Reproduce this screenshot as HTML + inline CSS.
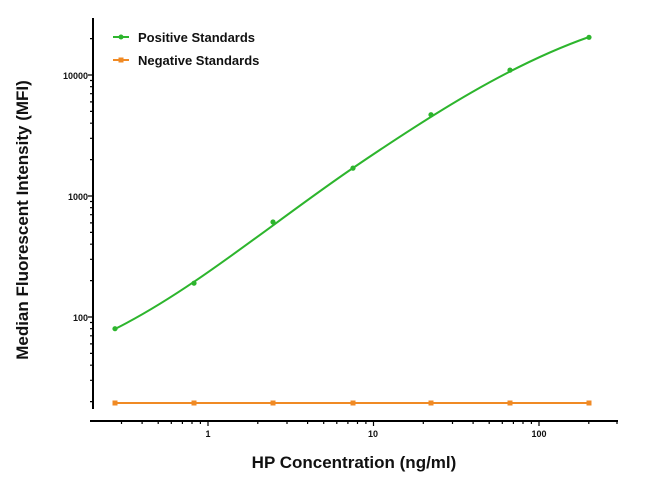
<!DOCTYPE html>
<html><head><meta charset="utf-8"><style>body{margin:0;background:#fff}svg{display:block}</style></head>
<body>
<svg width="650" height="482" xmlns="http://www.w3.org/2000/svg" font-family="Liberation Sans, Arial, sans-serif">
<rect width="650" height="482" fill="#fff"/>
<g stroke="#000" stroke-width="2" fill="none">
<line x1="93" y1="18" x2="93" y2="409"/>
<line x1="90" y1="421" x2="618" y2="421"/>
</g>
<path stroke="#000" stroke-width="1.2" fill="none" d="
M90,401.6H93 M90,380.3H93 M90,365.2H93 M90,353.4H93 M90,343.9H93 M90,335.8H93 M90,328.7H93 M90,322.5H93 M88,317H93
M90,280.6H93 M90,259.3H93 M90,244.2H93 M90,232.4H93 M90,222.9H93 M90,214.7H93 M90,207.7H93 M90,201.5H93 M88,196H93
M90,159.6H93 M90,138.3H93 M90,123.2H93 M90,111.4H93 M90,101.9H93 M90,93.7H93 M90,86.7H93 M90,80.5H93 M88,75H93
M90,38.6H93
M121.5,421V424 M142.1,421V424 M158.2,421V424 M171.3,421V424 M182.4,421V424 M192,421V424 M200.4,421V424 M208,421V426
M257.8,421V424 M287,421V424 M307.6,421V424 M323.7,421V424 M336.8,421V424 M347.9,421V424 M357.5,421V424 M365.9,421V424 M373.5,421V426
M423.3,421V424 M452.5,421V424 M473.1,421V424 M489.2,421V424 M502.3,421V424 M513.4,421V424 M523,421V424 M531.4,421V424 M539,421V426
M588.8,421V424 M617,421V424"/>
<g font-size="9" font-weight="bold" text-anchor="end" fill="#111">
<text x="88" y="79">10000</text><text x="88" y="200">1000</text><text x="88" y="321">100</text>
</g>
<g font-size="9" font-weight="bold" text-anchor="middle" fill="#111">
<text x="208" y="437">1</text><text x="373" y="437">10</text><text x="539" y="437">100</text>
</g>
<text x="354" y="468" font-size="17" font-weight="bold" text-anchor="middle" fill="#111">HP Concentration (ng/ml)</text>
<text transform="translate(28,220) rotate(-90)" font-size="17" font-weight="bold" text-anchor="middle" fill="#111">Median Fluorescent Intensity (MFI)</text>
<path fill="none" stroke="#2db52d" stroke-width="2" d="M115,329 C194,289.5 274,221.7 353,168 C432,114.3 510,64.7 589,37"/>
<g fill="#2db52d">
<circle cx="115" cy="328.7" r="2.6"/><circle cx="194" cy="283.2" r="2.6"/><circle cx="273" cy="222" r="2.6"/><circle cx="353" cy="168.1" r="2.6"/><circle cx="431" cy="114.7" r="2.6"/><circle cx="510" cy="70.1" r="2.6"/><circle cx="589" cy="37.3" r="2.6"/>
</g>
<line x1="115" y1="403" x2="589" y2="403" stroke="#f08a24" stroke-width="2"/>
<g fill="#f08a24">
<rect x="112.5" y="400.5" width="5" height="5"/><rect x="191.5" y="400.5" width="5" height="5"/><rect x="270.5" y="400.5" width="5" height="5"/><rect x="350.5" y="400.5" width="5" height="5"/><rect x="428.5" y="400.5" width="5" height="5"/><rect x="507.5" y="400.5" width="5" height="5"/><rect x="586.5" y="400.5" width="5" height="5"/>
</g>
<line x1="113" y1="37" x2="129" y2="37" stroke="#2db52d" stroke-width="2"/><circle cx="121" cy="37" r="2.5" fill="#2db52d"/>
<line x1="113" y1="60" x2="129" y2="60" stroke="#f08a24" stroke-width="2"/><rect x="118.5" y="57.5" width="5" height="5" fill="#f08a24"/>
<g font-size="13" font-weight="bold" fill="#111"><text x="138" y="42">Positive Standards</text><text x="138" y="65">Negative Standards</text></g>
</svg>
</body></html>
